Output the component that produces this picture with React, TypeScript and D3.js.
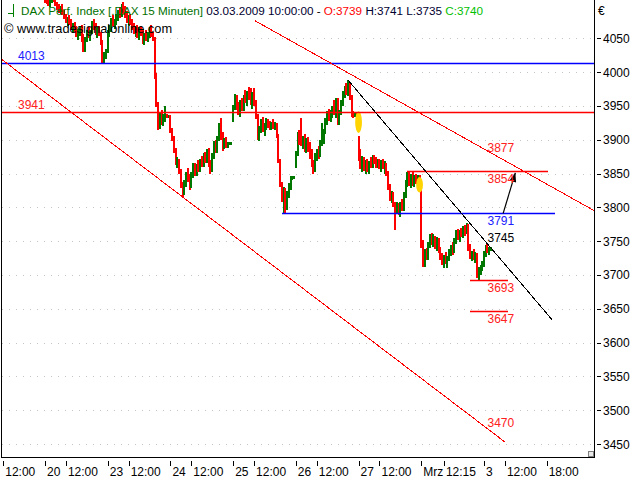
import * as d3 from "d3";

// 15-minute OHLC bars, [open, high, low, close], 36 bars per session (09:00 - 17:45)
const feb20 = [
  [4110,4118,4102,4106],[4106,4112,4100,4104],[4104,4110,4098,4101],[4101,4108,4096,4105],
  [4105,4114,4102,4110],[4110,4116,4104,4106],[4106,4110,4097,4099],[4099,4104,4092,4096],
  [4096,4101,4088,4091],[4091,4098,4086,4094],[4094,4100,4085,4088],[4088,4092,4078,4081],
  [4081,4086,4072,4075],[4075,4082,4068,4078],[4078,4084,4070,4073],[4073,4078,4062,4066],
  [4066,4072,4058,4069],[4069,4074,4060,4063],[4063,4068,4052,4056],[4056,4064,4048,4061],
  [4061,4068,4054,4066],[4066,4070,4045,4050],[4050,4056,4030,4034],[4034,4052,4030,4048],
  [4048,4062,4044,4058],[4058,4066,4050,4054],[4054,4062,4046,4060],[4060,4075,4056,4070],
  [4070,4078,4062,4066],[4066,4072,4055,4058],[4058,4066,4050,4062],[4062,4068,4054,4057],
  [4057,4060,4040,4044],[4044,4048,4013,4018],[4018,4030,4014,4026],[4026,4034,4020,4030],
];
const feb23 = [
  [4030,4062,4028,4058],[4058,4070,4052,4066],[4066,4080,4060,4076],[4076,4084,4068,4072],
  [4072,4078,4064,4074],[4074,4086,4070,4082],[4082,4092,4076,4088],[4088,4096,4080,4084],
  [4084,4100,4082,4096],[4096,4104,4086,4090],[4090,4098,4080,4083],[4083,4090,4072,4076],
  [4076,4084,4068,4080],[4080,4086,4070,4073],[4073,4078,4062,4066],[4066,4072,4056,4060],
  [4060,4068,4052,4064],[4064,4070,4050,4054],[4054,4066,4048,4062],[4062,4068,4054,4058],
  [4058,4064,4042,4046],[4046,4058,4040,4055],[4055,4062,4046,4050],[4050,4060,4044,4057],
  [4057,4066,4050,4062],[4062,4070,4052,4056],[4056,4060,4046,4050],[4050,4052,3990,3994],
  [3994,3998,3948,3952],[3952,3956,3914,3920],[3920,3940,3916,3935],[3935,3944,3922,3926],
  [3926,3938,3920,3934],[3934,3950,3926,3936],[3936,3938,3932,3934],[3934,3936,3932,3934],
];
const feb24 = [
  [3934,3936,3910,3914],[3914,3918,3898,3902],[3902,3905,3880,3884],[3884,3888,3862,3866],
  [3866,3874,3858,3870],[3870,3872,3850,3854],[3854,3856,3828,3832],[3832,3838,3815,3822],
  [3822,3840,3818,3836],[3836,3852,3830,3848],[3848,3858,3838,3842],[3842,3850,3826,3830],
  [3830,3852,3828,3848],[3848,3866,3844,3860],[3860,3866,3846,3850],[3850,3864,3846,3860],
  [3860,3870,3852,3856],[3856,3872,3852,3868],[3868,3876,3860,3864],[3864,3880,3860,3876],
  [3876,3882,3866,3870],[3870,3886,3866,3882],[3882,3888,3860,3864],[3864,3870,3850,3856],
  [3856,3880,3852,3876],[3876,3898,3872,3894],[3894,3900,3880,3884],[3884,3906,3880,3902],
  [3902,3924,3898,3920],[3920,3932,3900,3904],[3904,3912,3884,3890],[3890,3902,3886,3898],
  [3898,3904,3888,3892],[3892,3896,3888,3894],[3894,3896,3892,3894],[3894,3896,3892,3895],
];
const feb25 = [
  [3930,3952,3926,3948],[3948,3968,3944,3962],[3962,3966,3944,3948],[3948,3956,3936,3940],
  [3940,3958,3934,3954],[3954,3962,3942,3946],[3946,3966,3942,3962],[3962,3974,3954,3958],
  [3958,3972,3950,3968],[3968,3978,3958,3962],[3962,3976,3952,3956],[3956,3970,3946,3966],
  [3966,3976,3950,3954],[3954,3958,3930,3934],[3934,3938,3900,3904],[3904,3920,3898,3916],
  [3916,3930,3910,3926],[3926,3934,3912,3916],[3916,3924,3906,3920],[3920,3932,3914,3928],
  [3928,3930,3918,3922],[3922,3928,3914,3920],[3920,3926,3914,3924],[3924,3930,3916,3918],
  [3918,3926,3914,3922],[3922,3924,3902,3906],[3906,3908,3866,3870],[3870,3872,3830,3834],
  [3834,3838,3808,3812],[3812,3830,3792,3826],[3826,3828,3790,3800],[3800,3824,3796,3820],
  [3820,3836,3814,3832],[3832,3846,3826,3842],[3842,3846,3840,3844],[3844,3846,3842,3845],
];
const feb26 = [
  [3860,3884,3858,3880],[3880,3912,3876,3908],[3908,3914,3892,3896],[3896,3932,3890,3894],
  [3894,3906,3886,3900],[3900,3908,3882,3888],[3888,3902,3880,3896],[3896,3904,3882,3886],
  [3886,3896,3872,3878],[3878,3886,3860,3864],[3864,3870,3850,3856],[3856,3880,3852,3876],
  [3876,3886,3868,3882],[3882,3890,3872,3878],[3878,3900,3874,3896],[3896,3924,3890,3904],
  [3904,3916,3894,3912],[3912,3932,3908,3928],[3928,3942,3922,3936],[3936,3946,3928,3932],
  [3932,3944,3926,3940],[3940,3950,3932,3944],[3944,3958,3936,3940],[3940,3962,3932,3958],
  [3958,3962,3922,3926],[3926,3944,3922,3940],[3940,3958,3936,3954],[3954,3972,3950,3968],
  [3968,3980,3962,3976],[3976,3984,3966,3970],[3970,3988,3964,3982],[3982,3984,3958,3962],
  [3962,3966,3934,3938],[3938,3942,3932,3936],[3936,3940,3934,3938],[3938,3940,3934,3936],
];
const feb27 = [
  [3904,3906,3868,3872],[3872,3886,3856,3860],[3860,3876,3852,3870],[3870,3874,3854,3858],
  [3858,3870,3850,3866],[3866,3872,3852,3856],[3856,3868,3850,3864],[3864,3874,3858,3862],
  [3862,3878,3858,3874],[3874,3878,3864,3868],[3868,3874,3858,3862],[3862,3872,3858,3868],
  [3868,3872,3856,3860],[3860,3870,3852,3866],[3866,3872,3856,3858],[3858,3868,3850,3864],
  [3864,3866,3846,3850],[3850,3854,3826,3830],[3830,3834,3810,3814],[3814,3824,3806,3820],
  [3820,3822,3800,3804],[3804,3808,3766,3796],[3796,3808,3790,3802],[3802,3806,3788,3792],
  [3792,3808,3786,3804],[3804,3812,3794,3798],[3798,3822,3794,3818],[3818,3840,3814,3836],
  [3836,3852,3830,3846],[3846,3853,3832,3838],[3838,3850,3828,3846],[3846,3852,3832,3836],
  [3836,3848,3830,3844],[3844,3850,3834,3840],[3840,3848,3832,3844],[3844,3848,3836,3840],
];
const mar02 = [
  [3832,3834,3740,3746],[3746,3752,3712,3718],[3718,3738,3712,3732],[3732,3740,3722,3726],
  [3726,3748,3722,3744],[3744,3760,3740,3756],[3756,3762,3744,3748],[3748,3760,3742,3754],
  [3754,3758,3738,3742],[3742,3756,3736,3750],[3750,3754,3732,3736],[3736,3742,3722,3726],
  [3726,3732,3714,3720],[3720,3730,3710,3726],[3726,3734,3716,3720],[3720,3728,3710,3724],
  [3724,3738,3720,3734],[3734,3744,3728,3740],[3740,3748,3730,3736],[3736,3754,3732,3750],
  [3750,3766,3746,3762],[3762,3768,3752,3758],[3758,3766,3748,3764],[3764,3770,3756,3760],
  [3760,3772,3754,3768],[3768,3774,3758,3762],[3762,3777,3760,3774],[3774,3776,3736,3740],
  [3740,3746,3724,3728],[3728,3736,3720,3732],[3732,3738,3722,3726],[3726,3734,3718,3730],
  [3730,3732,3696,3700],[3700,3712,3693,3708],[3708,3714,3700,3712],[3712,3720,3706,3716],
];
const mar03 = [
  [3716,3736,3712,3732],[3732,3744,3726,3740],[3740,3746,3732,3736],[3736,3742,3730,3739],
  [3739,3741,3735,3740],
];
// session index 0 = 19 Feb (off the top of the chart)
const sessions = [
  { day: 1, bars: feb20 }, { day: 2, bars: feb23 }, { day: 3, bars: feb24 }, { day: 4, bars: feb25 },
  { day: 5, bars: feb26 }, { day: 6, bars: feb27 }, { day: 7, bars: mar02 }, { day: 8, bars: mar03 },
];
const PER_DAY = 36;

const priceTicks = [3450, 3500, 3550, 3600, 3650, 3700, 3750, 3800, 3850, 3900, 3950, 4000, 4050];
const timeTicks: [number, string][] = [
  [12, "12:00"], [36, "20"], [48, "12:00"], [72, "23"], [84, "12:00"], [108, "24"], [120, "12:00"],
  [144, "25"], [156, "12:00"], [180, "26"], [192, "12:00"], [216, "27"], [228, "12:00"],
  [252, "Mrz"], [265, "12:15"], [288, "3"], [300, "12:00"], [324, "18:00"],
];

// horizontal levels: price, from bar, to bar (null = full width)
const levels = [
  { price: 4013, from: null, to: null, color: "#0000ff" },
  { price: 3941, from: null, to: null, color: "#ff0000" },
  { price: 3791, from: 172, to: 329, color: "#0000ff" },
  { price: 3853, from: 244, to: 325, color: "#ff0000" },
  { price: 3693, from: 280, to: 302, color: "#ff0000" },
  { price: 3647, from: 280, to: 302, color: "#ff0000" },
];
// trend lines as [bar, price] pairs
const trendLines = [
  { pts: [[156.5, 4076], [352, 3794]], color: "#ff0000" },
  { pts: [[11, 4019], [300, 3453]], color: "#ff0000" },
  { pts: [[210, 3988], [327, 3634]], color: "#000000" },
];
const arrow = [[299, 3791], [306, 3851]];
const gapMarks = [{ bar: 216, hi: 3942, lo: 3910 }, { bar: 251, hi: 3845, lo: 3822 }];
const labels = [
  { text: "4013", bar: 20.5, price: 4013, pos: "above", color: "#2020ff" },
  { text: "3941", bar: 20.5, price: 3941, pos: "above", color: "#ff2020" },
  { text: "3877", bar: 290, price: 3877, pos: "above", color: "#ff2020" },
  { text: "3854", bar: 290, price: 3853, pos: "below", color: "#ff2020" },
  { text: "3791", bar: 290, price: 3791, pos: "below", color: "#2020ff" },
  { text: "3745", bar: 290, price: 3745, pos: "above", color: "#000000" },
  { text: "3693", bar: 290, price: 3693, pos: "below", color: "#ff2020" },
  { text: "3647", bar: 290, price: 3647, pos: "below", color: "#ff2020" },
  { text: "3470", bar: 290, price: 3470, pos: "above", color: "#ff2020" },
];

const FONT = "'Liberation Sans', Arial, sans-serif";
const W = 640, H = 480;
const L = 2, R = 594, T = 0, B = 458;
const UP = "#007800", DOWN = "#ff0000";

export default function App() {
  const x = d3.scaleLinear().domain([0, 9 * PER_DAY]).range([-17.7, 546.7]);
  const y = d3.scaleLinear().domain([3429.3, 4106.6]).range([B, T]);
  const bars = sessions.flatMap(s => s.bars.map((b, i) => ({ i: s.day * PER_DAY + i, o: b[0], h: b[1], l: b[2], c: b[3] })));
  const line = d3.line<number[]>().x(d => x(d[0])).y(d => y(d[1]));
  const a0 = [x(arrow[0][0]), y(arrow[0][1])], a1 = [x(arrow[1][0]), y(arrow[1][1])];
  const ang = Math.atan2(a1[1] - a0[1], a1[0] - a0[0]);
  const head = [0, 1, -1].map(k => k === 0 ? a1 : [a1[0] - 9 * Math.cos(ang) + k * 3.5 * Math.sin(ang), a1[1] - 9 * Math.sin(ang) - k * 3.5 * Math.cos(ang)]);

  return (
    <svg width={W} height={H} style={{ position: "absolute", left: 0, top: 0, background: "#fff" }} fontFamily={FONT}>
      <defs>
        <clipPath id="plot"><rect x={L} y={T} width={R - L} height={B - T} /></clipPath>
      </defs>
      <rect width={W} height={H} fill="#fff" />
      <g clipPath="url(#plot)">
        {priceTicks.map(p => (
          <line key={p} x1={L} x2={R} y1={Math.round(y(p)) + 0.5} y2={Math.round(y(p)) + 0.5} stroke="#c4c4c4" strokeDasharray="1 6" />
        ))}
        {bars.map(b => (
          <rect key={b.i} x={Math.round(x(b.i)) - 1} width={2} y={Math.round(y(b.h))}
            height={Math.max(1, Math.round(y(b.l)) - Math.round(y(b.h)))} fill={b.c >= b.o ? UP : DOWN} />
        ))}
        {gapMarks.map(g => (
          <ellipse key={g.bar} cx={x(g.bar)} cy={(y(g.hi) + y(g.lo)) / 2} rx={3.4} ry={(y(g.lo) - y(g.hi)) / 2} fill="#ffd400" />
        ))}
        {levels.map(lv => {
          const yy = Math.round(y(lv.price)) + 0.5;
          return <line key={lv.price} x1={lv.from == null ? L : Math.round(x(lv.from))} x2={lv.to == null ? R : Math.round(x(lv.to))} y1={yy} y2={yy} stroke={lv.color} strokeWidth={1.5} />;
        })}
        {trendLines.map((t, k) => (
          <path key={k} d={line(t.pts) ?? ""} stroke={t.color} fill="none" strokeWidth={1} shapeRendering="crispEdges" />
        ))}
        <line x1={a0[0]} y1={a0[1]} x2={a1[0]} y2={a1[1]} stroke="#000" strokeWidth={1.2} />
        <polygon points={head.map(p => p.join(",")).join(" ")} fill="#000" />
        {labels.map(lb => (
          <text key={lb.text} x={x(lb.bar)} y={y(lb.price) + (lb.pos === "below" ? 12 : -3)} fontSize={12} fill={lb.color}>{lb.text}</text>
        ))}
      </g>
      {/* frame */}
      <g stroke="#000" strokeWidth={1} shapeRendering="crispEdges">
        <line x1={L - 0.5} x2={L - 0.5} y1={0} y2={B} />
        <line x1={R + 0.5} x2={R + 0.5} y1={0} y2={B} />
        <line x1={L - 1} x2={R + 1} y1={B - 0.5} y2={B - 0.5} />
      </g>
      <rect x={588.5} y={451.5} width={5} height={5} fill="#e8e8e8" stroke="#808080" shapeRendering="crispEdges" />
      {/* price axis */}
      {priceTicks.map(p => (
        <g key={p}>
          <line x1={597} x2={601} y1={Math.round(y(p)) + 0.5} y2={Math.round(y(p)) + 0.5} stroke="#000" />
          <text x={603} y={y(p) + 4.5} fontSize={12} fill="#000">{p}</text>
        </g>
      ))}
      <text x={598} y={15} fontSize={12} fill="#000">€</text>
      {/* time axis */}
      {timeTicks.map(([b, lab], k) => (
        <g key={k}>
          <line x1={Math.round(x(b)) + 0.5} x2={Math.round(x(b)) + 0.5} y1={461} y2={466} stroke="#000" />
          <text x={x(b) + 2} y={476} fontSize={12} fill="#000">{lab}</text>
        </g>
      ))}
      {/* title */}
      <g stroke="#008000" strokeWidth={1} shapeRendering="crispEdges">
        <line x1={13.5} x2={13.5} y1={4} y2={17} />
        <line x1={8} x2={13} y1={13.5} y2={13.5} />
      </g>
      <text x={21} y={15} fontSize={11.7}>
        <tspan fill="#007000">DAX Perf. Index [.DAX  15 Minuten]</tspan>
        <tspan fill="#000030"> 03.03.2009 10:00:00 </tspan>
        <tspan fill="#000">- </tspan>
        <tspan fill="#ff0000">O:3739 </tspan>
        <tspan fill="#000030">H:3741 L:3735 </tspan>
        <tspan fill="#00c000">C:3740</tspan>
      </text>
      <text x={4} y={33} fontSize={12.8} fill="#000">© www.tradesignalonline.com</text>
    </svg>
  );
}
